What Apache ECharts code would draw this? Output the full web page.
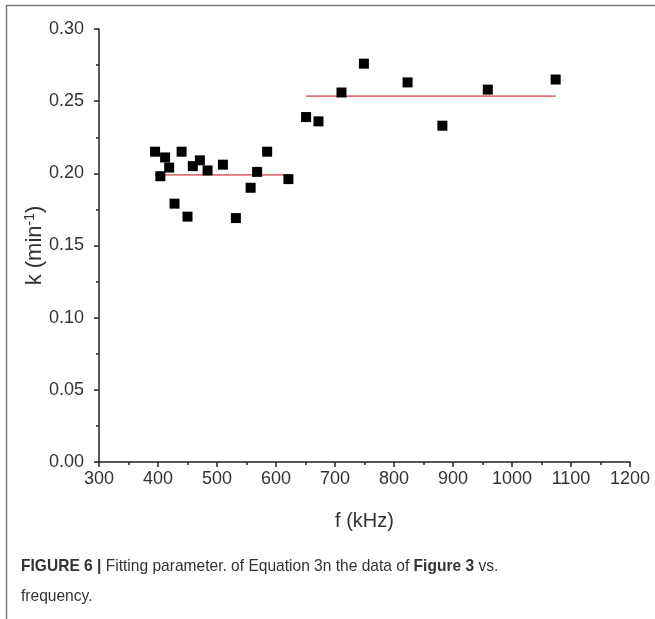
<!DOCTYPE html>
<html><head><meta charset="utf-8">
<script src="https://cdn.jsdelivr.net/npm/echarts@6/dist/echarts.min.js"></script>
<style>html,body{margin:0;padding:0;background:#fff}#c{width:655px;height:619px}</style>
</head><body><div id="c"></div>
<script>
const freq = [395, 412, 419, 404, 440, 428, 450, 459, 471, 484, 510, 532, 557, 568, 585, 621, 651, 672, 711, 749, 823, 882, 959, 1074];
const kval = [0.215, 0.211, 0.204, 0.198, 0.215, 0.179, 0.170, 0.205, 0.209, 0.202, 0.206, 0.169, 0.190, 0.201, 0.215, 0.196, 0.239, 0.236, 0.256, 0.276, 0.263, 0.233, 0.258, 0.265];
const fit1X = [395, 621], fit1Y = [0.199, 0.199];
const fit2X = [651, 1074], fit2Y = [0.2535, 0.2535];
const xTicks = {min: 300, max: 1200, interval: 100};
const yTicks = {min: 0, max: 0.30, interval: 0.05};

const chart = echarts.init(document.getElementById('c'), null, {renderer: 'canvas'});
const axisCol = '#222';
const font = 'Liberation Sans, Arial, sans-serif';
chart.setOption({
  animation: false,
  grid: {left: 99, right: 25, top: 29, bottom: 157, containLabel: false},
  xAxis: {
    type: 'value', min: xTicks.min, max: xTicks.max, interval: xTicks.interval,
    name: 'f (kHz)', nameLocation: 'middle', nameGap: 49, nameMoveOverlap: false,
    nameTextStyle: {fontFamily: font, fontSize: 20, color: '#333'},
    axisLine: {show: true, lineStyle: {color: axisCol, width: 1.5}},
    axisTick: {show: true, length: 5, lineStyle: {color: axisCol, width: 1.5}},
    minorTick: {show: true, splitNumber: 2, length: 3, lineStyle: {color: axisCol, width: 1.5}},
    axisLabel: {fontFamily: font, fontSize: 18, color: '#333', margin: 8,
      formatter: v => String(v)},
    splitLine: {show: false}
  },
  yAxis: {
    type: 'value', min: yTicks.min, max: yTicks.max, interval: yTicks.interval,
    name: 'k (min{sup|-1})', nameLocation: 'middle', nameGap: 52, nameRotate: 90, nameMoveOverlap: false,
    nameTextStyle: {fontFamily: font, fontSize: 22, color: '#333',
      rich: {sup: {fontFamily: font, fontSize: 14, color: '#333', verticalAlign: 'top', padding: [0,0,10,0]}}},
    axisLine: {show: true, lineStyle: {color: axisCol, width: 1.5}},
    axisTick: {show: true, length: 5, lineStyle: {color: axisCol, width: 1.5}},
    minorTick: {show: true, splitNumber: 2, length: 3, lineStyle: {color: axisCol, width: 1.5}},
    axisLabel: {fontFamily: font, fontSize: 18, color: '#333', margin: 15,
      formatter: v => v.toFixed(2)},
    splitLine: {show: false}
  },
  series: [
    {type: 'line', data: fit1X.map((x, i) => [x, fit1Y[i]]), symbol: 'none',
     lineStyle: {color: '#e0707c', width: 1.8}, z: 2},
    {type: 'line', data: fit2X.map((x, i) => [x, fit2Y[i]]), symbol: 'none',
     lineStyle: {color: '#e0707c', width: 1.8}, z: 2},
    {type: 'scatter', data: freq.map((x, i) => [x, kval[i]]), symbol: 'rect', symbolSize: 10,
     itemStyle: {color: '#000', opacity: 1}, z: 3}
  ],
  graphic: [
    {type: 'line', shape: {x1: 6, y1: 5.5, x2: 655, y2: 5.5}, style: {stroke: '#777', lineWidth: 1.5}},
    {type: 'line', shape: {x1: 6.5, y1: 5, x2: 6.5, y2: 619}, style: {stroke: '#777', lineWidth: 1.5}},
    {type: 'text', x: 21, y: 558, scaleX: 0.915, style: {
      text: '{b|FIGURE 6 |} Fitting parameter. of Equation 3n the data of {b|Figure 3} vs.',
      fontFamily: font, fontSize: 17, fill: '#333',
      rich: {b: {fontFamily: font, fontSize: 17, fontWeight: 'bold', fill: '#333'}}}},
    {type: 'text', x: 21, y: 588, scaleX: 0.915, style: {
      text: 'frequency.', fontFamily: font, fontSize: 17, fill: '#333'}}
  ]
});
</script></body></html>
